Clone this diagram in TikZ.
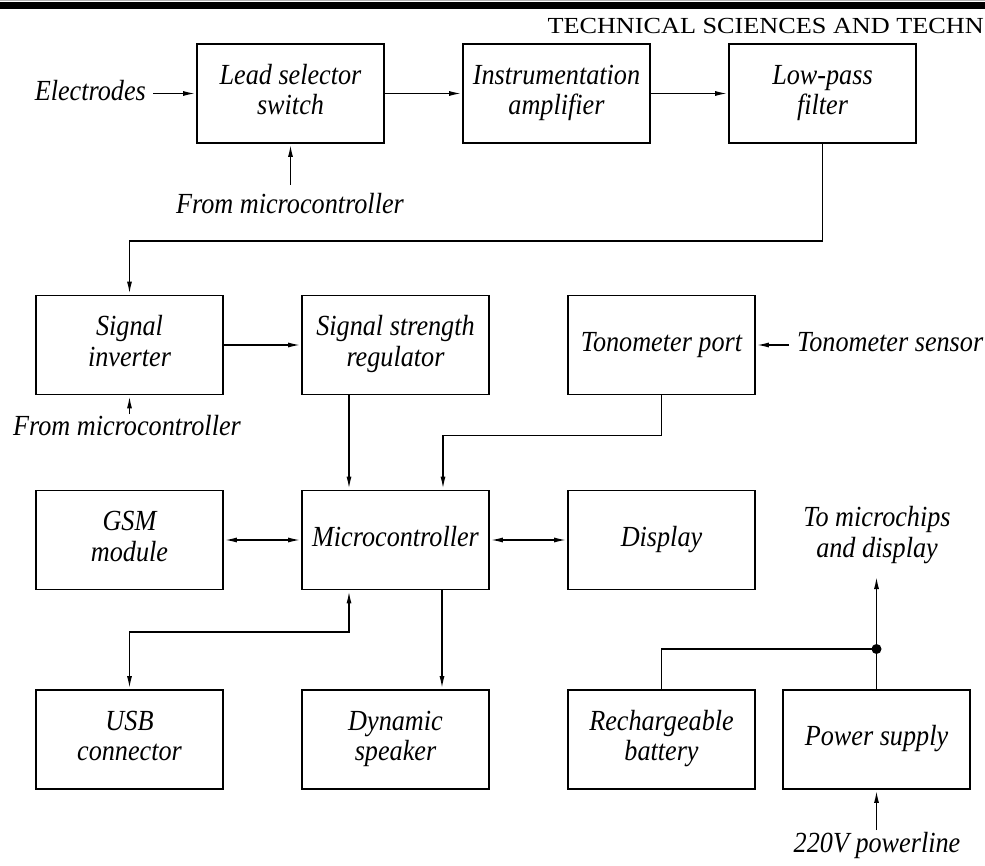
\documentclass[tikz,border=0pt]{standalone}
\usepackage{fontspec}
\usepackage{graphicx}
\setmainfont{Liberation Serif}
\usetikzlibrary{arrows.meta}
\newcommand{\txt}[1]{\scalebox{0.97}[1.08]{\begin{tabular}{@{}c@{}}#1\end{tabular}}}
\begin{document}
\begin{tikzpicture}[x=1pt,y=-1pt,
  blk/.style={draw, line width=1.9pt, minimum width=187pt, minimum height=99pt, inner sep=0pt, font=\itshape\fontsize{27}{28}\selectfont},
  lbl/.style={inner sep=0pt, font=\itshape\fontsize{27}{28}\selectfont},
  conn/.style={line width=1.7pt, -{Latex[length=13pt,width=5pt]}},
  bconn/.style={line width=1.7pt, {Latex[length=13pt,width=5pt]}-{Latex[length=13pt,width=5pt]}},
  wire/.style={line width=1.7pt}]
\useasboundingbox (0,0) rectangle (985,866);
\fill[gray!60] (0,0) rectangle (985,1.2);
\fill[black] (0,2.5) rectangle (985,9.5);
\node[anchor=base east, inner sep=0pt, font=\fontsize{23}{26}\selectfont, xscale=1.14] (hdr) at (984,33.5) {TECHNICAL SCIENCES AND TECHN};
% blocks
\node[blk] (lss) at (290.5,93.5) {\txt{Lead selector\\switch}};
\node[blk] (ia) at (556.5,93.5) {\txt{Instrumentation\\amplifier}};
\node[blk] (lpf) at (822.5,93.5) {\txt{Low-pass\\filter}};
\node[blk] (si) at (129.5,345) {\txt{Signal\\inverter}};
\node[blk] (ssr) at (395.5,345) {\txt{Signal strength\\regulator}};
\node[blk] (tp) at (661.5,345) {\txt{Tonometer port}};
\node[blk] (gsm) at (129.5,540) {\txt{GSM\\module}};
\node[blk] (mc) at (395.5,540) {\txt{Microcontroller}};
\node[blk] (disp) at (661.5,540) {\txt{Display}};
\node[blk] (usb) at (129.5,739.5) {\txt{USB\\connector}};
\node[blk] (ds) at (395.5,739.5) {\txt{Dynamic\\speaker}};
\node[blk] (rb) at (661.5,739.5) {\txt{Rechargeable\\battery}};
\node[blk] (ps) at (876.5,739.5) {\txt{Power supply}};
% labels
\node[lbl, anchor=east] (elec) at (146,94) {\txt{Electrodes}};
\node[lbl] (fm1) at (290,207) {\txt{From microcontroller}};
\node[lbl] (fm2) at (127,429) {\txt{From microcontroller}};
\node[lbl, anchor=west] (ts) at (797,345) {\txt{Tonometer sensor}};
\node[lbl] (tmd) at (877,536) {\txt{To microchips\\and display}};
\node[lbl] (pl) at (877,846) {\txt{220V powerline}};
% coordinates
\coordinate (fm1a) at (290.5,185);
\coordinate (fm2a) at (129.5,414);
\coordinate (elecb) at (153,93.5);
\coordinate (tsa) at (789,345);
\coordinate (junc) at (876.5,649);
\coordinate (tmda) at (876.5,576);
\coordinate (pla) at (876.5,830);
% connectors
\draw[conn] (elecb) -- (lss.west);
\draw[conn] (fm1a) -- (lss.south);
\draw[conn] (lss) -- (ia);
\draw[conn] (ia) -- (lpf);
\draw[conn] (lpf.south) -- ++(0,97) -| (si.north);
\draw[conn] (fm2a) -- (si.south);
\draw[conn] (si) -- (ssr);
\draw[conn] (tsa) -- (tp.east);
\draw[conn] ([xshift=-46.5pt]ssr.south) -- ([xshift=-46.5pt]mc.north);
\draw[conn] (tp.south) -- ++(0,40) -| ([xshift=47.5pt]mc.north);
\draw[bconn] (gsm) -- (mc);
\draw[bconn] (mc) -- (disp);
\draw[bconn] ([xshift=-46.5pt]mc.south) -- ++(0,41.5) -| (usb.north);
\draw[conn] ([xshift=46.5pt]mc.south) -- ([xshift=46.5pt]ds.north);
\draw[wire] (rb.north) |- (junc);
\draw[wire] (ps.north) -- (junc);
\draw[conn] (junc) -- (tmda);
\fill (junc) circle (5pt);
\draw[conn] (pla) -- (ps.south);
\end{tikzpicture}
\end{document}
